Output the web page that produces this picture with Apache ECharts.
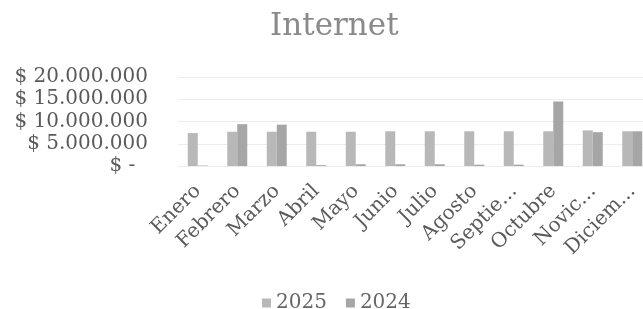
<!DOCTYPE html>
<html>
<head>
<meta charset="utf-8">
<title>Internet</title>
<script src="https://cdn.jsdelivr.net/npm/echarts@6/dist/echarts.min.js"></script>
<style>
  html, body { margin: 0; padding: 0; background: #fff; }
  #chart { width: 643px; height: 309px; }
</style>
</head>
<body>
<div id="chart"></div>
<script>
// meses (etiquetas tal como salen en el gráfico)
var meses = ["Enero", "Febrero", "Marzo", "Abril", "Mayo", "Junio", "Julio",
  "Agosto", "Septie...", "Octubre", "Novic...", "Diciem..."];
// valores en pesos
var v2025 = [7400000, 7700000, 7700000, 7700000, 7700000, 7800000, 7800000,
  7800000, 7800000, 7800000, 8000000, 7800000];
var v2024 = [100000, 9400000, 9300000, 200000, 400000, 400000, 400000,
  300000, 300000, 14500000, 7600000, 7800000];
var ticksY = [0, 5000000, 10000000, 15000000, 20000000];

var fuente = "DejaVu Serif";

function formatoPeso(v) {
  if (v === 0) return "$ -  ";
  return "$ " + String(v).replace(/\B(?=(\d{3})+(?!\d))/g, ".");
}

var myecharts = echarts.init(document.getElementById("chart")); //contenedor
var option = {
  animation: false,
  title: {
    text: "Internet",
    left: 265,
    top: 6,
    textStyle: { fontFamily: fuente, fontSize: 31, fontWeight: "normal", color: "#8a8a8a" }
  },
  legend: {
    data: ["2025", "2024"],
    left: 257,
    top: 288,
    itemWidth: 9,
    itemHeight: 9,
    itemGap: 19,
    icon: "rect",
    textStyle: { fontFamily: fuente, fontSize: 20, color: "#666" }
  },
  // el área del gráfico se sale un poco por la derecha, como en el original
  grid: { left: 178, top: 77, width: 474, height: 89, outerBoundsMode: "none" },
  xAxis: {
    type: "category",
    data: meses,
    axisLine: { show: false },
    axisTick: { show: false },
    axisLabel: {
      rotate: 45,
      interval: 0,
      margin: 22,
      fontFamily: fuente,
      fontSize: 20,
      color: "#5a5a5a"
    }
  },
  yAxis: {
    type: "value",
    min: ticksY[0],
    max: ticksY[ticksY.length - 1],
    interval: 5000000,
    axisLine: { show: false },
    axisTick: { show: false },
    splitLine: { lineStyle: { color: "#ececec", width: 1 } },
    axisLabel: {
      margin: 30,
      fontFamily: fuente,
      fontSize: 20,
      color: "#5a5a5a",
      formatter: formatoPeso
    }
  },
  series: [
    {
      name: "2025",
      type: "bar",
      data: v2025,
      barWidth: 10,
      barGap: "0%",
      itemStyle: { color: "#b8b8b8" }
    },
    {
      name: "2024",
      type: "bar",
      data: v2024,
      barWidth: 10,
      itemStyle: { color: "#a6a6a6" }
    }
  ]
};
myecharts.setOption(option);
</script>
</body>
</html>
